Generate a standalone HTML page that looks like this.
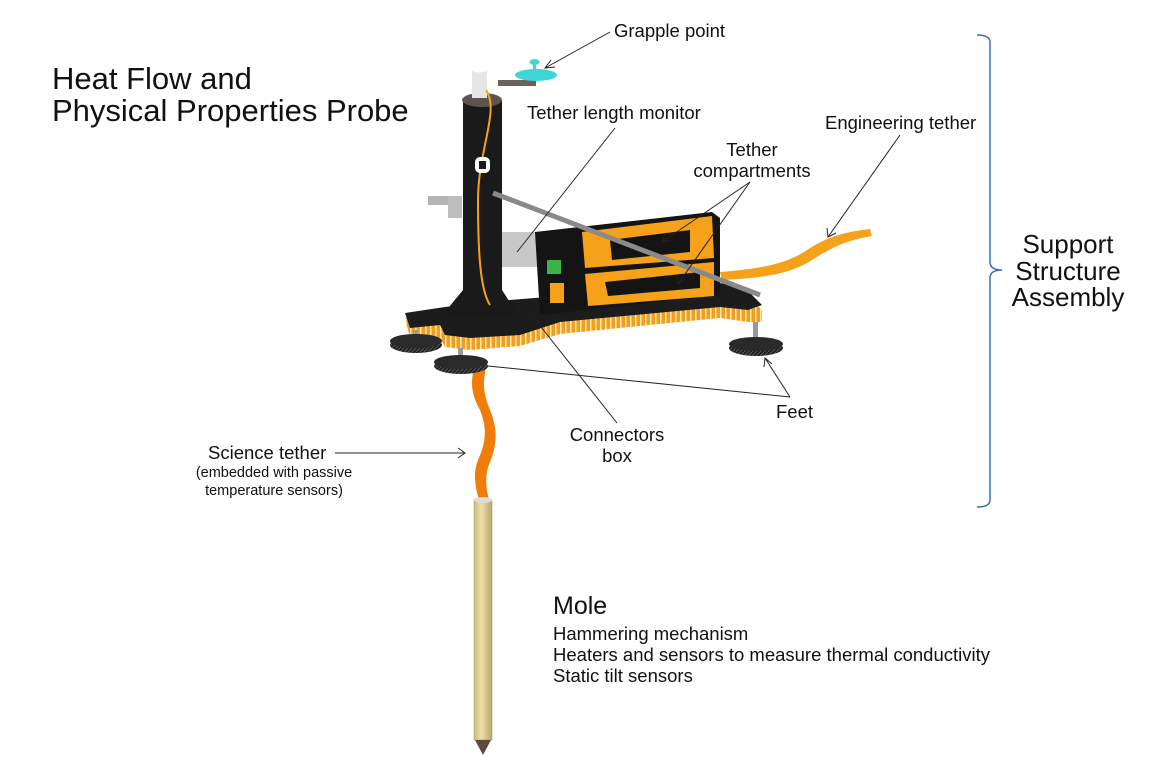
<!DOCTYPE html>
<html><head><meta charset="utf-8"><style>
html,body{margin:0;padding:0;background:#fff;}
svg{display:block;}
text{font-family:"Liberation Sans",Arial,sans-serif;fill:#111;}
</style></head><body>
<svg width="1176" height="767" viewBox="0 0 1176 767" xmlns="http://www.w3.org/2000/svg">
<defs>
<linearGradient id="mole" x1="0" x2="1"><stop offset="0" stop-color="#c9b97a"/><stop offset="0.4" stop-color="#eee0a8"/><stop offset="1" stop-color="#b9a66a"/></linearGradient>
<pattern id="rim" width="5" height="20" patternUnits="userSpaceOnUse"><rect width="5" height="20" fill="#f0a020"/><rect width="1.5" height="20" fill="#fde6b0"/></pattern>
<pattern id="tread" width="4" height="4" patternUnits="userSpaceOnUse"><rect width="4" height="4" fill="#222"/><path d="M0 4L4 0" stroke="#555" stroke-width="1"/></pattern>
</defs>

<!-- Titles -->
<text x="52" y="89" font-size="31">Heat Flow and</text>
<text x="52" y="121" font-size="31">Physical Properties Probe</text>

<!-- Labels -->
<text x="614" y="37" font-size="18.5">Grapple point</text>
<text x="527" y="119" font-size="18.5">Tether length monitor</text>
<text x="825" y="129" font-size="18.5">Engineering tether</text>
<text x="752" y="156" font-size="18.5" text-anchor="middle">Tether</text>
<text x="752" y="177" font-size="18.5" text-anchor="middle">compartments</text>
<text x="776" y="418" font-size="18.5">Feet</text>
<text x="617" y="441" font-size="18.5" text-anchor="middle">Connectors</text>
<text x="617" y="462" font-size="18.5" text-anchor="middle">box</text>
<text x="208" y="459" font-size="18.5">Science tether</text>
<text x="274" y="477" font-size="14.5" text-anchor="middle">(embedded with passive</text>
<text x="274" y="495" font-size="14.5" text-anchor="middle">temperature sensors)</text>
<text x="1068" y="253" font-size="26" text-anchor="middle">Support</text>
<text x="1068" y="280" font-size="26" text-anchor="middle">Structure</text>
<text x="1068" y="306" font-size="26" text-anchor="middle">Assembly</text>
<text x="553" y="614" font-size="25">Mole</text>
<text x="553" y="640" font-size="18.5">Hammering mechanism</text>
<text x="553" y="661" font-size="18.5">Heaters and sensors to measure thermal conductivity</text>
<text x="553" y="682" font-size="18.5">Static tilt sensors</text>

<!-- Bracket -->
<path d="M977 35 Q990 35 990 42 L990 262 Q990 270 1002 270 Q990 270 990 278 L990 500 Q990 507 977 507" fill="none" stroke="#3a6fb8" stroke-width="1.5"/>

<!-- Engineering tether -->
<path d="M720 272 C770 268 790 262 810 248 C830 236 845 232 870 229 L872 236 C848 240 835 246 815 258 C795 272 770 278 722 280Z" fill="#f5a21a"/>

<!-- Science tether -->
<path d="M474 368 C470 385 472 395 480 410 C488 430 485 445 478 460 C472 475 476 490 480 503 L490 503 C486 490 484 476 490 462 C497 445 498 430 490 410 C484 395 482 385 486 368Z" fill="#f07d0a"/>

<!-- Mole -->
<rect x="474" y="500" width="18" height="240" fill="url(#mole)" stroke="#a89560" stroke-width="0.5"/>
<path d="M475 740 L491 740 L483 755Z" fill="#5a4a40"/>
<ellipse cx="483" cy="500" rx="9" ry="3" fill="#ddd"/>

<!-- Base rim -->
<polygon points="405,318 445,312 510,305 720,288 745,293 762,310 762,322 748,322 720,318 560,334 520,346 470,350 445,347 440,338 410,338" fill="url(#rim)"/>
<polygon points="405,313 445,307 510,300 720,283 745,288 762,305 748,310 720,307 560,322 520,335 470,338 445,335 440,325 410,328" fill="#1c1c1c"/>

<!-- Feet -->
<rect x="413" y="330" width="5" height="8" fill="#999"/>
<ellipse cx="416" cy="345" rx="26" ry="8" fill="url(#tread)"/>
<ellipse cx="416" cy="341" rx="26" ry="7" fill="#2a2a2a"/>
<rect x="458" y="348" width="5" height="10" fill="#999"/>
<ellipse cx="461" cy="366" rx="27" ry="8" fill="url(#tread)"/>
<ellipse cx="461" cy="362" rx="27" ry="7" fill="#2a2a2a"/>
<rect x="753" y="322" width="5" height="18" fill="#999"/>
<ellipse cx="756" cy="348" rx="27" ry="8" fill="url(#tread)"/>
<ellipse cx="756" cy="344" rx="27" ry="7" fill="#2a2a2a"/>

<!-- Tether box -->
<rect x="502" y="232" width="40" height="35" fill="#c8c8c8"/>
<polygon points="535,232 712,212 720,218 720,295 540,315" fill="#141414"/>
<polygon points="582,232 712,216 714,258 585,268" fill="#f5a21a"/>
<polygon points="585,274 714,262 714,296 588,306" fill="#f5a21a"/>
<polygon points="610,240 690,230 690,252 612,260" fill="#141414"/>
<polygon points="605,282 700,272 700,288 608,296" fill="#141414"/>
<rect x="547" y="260" width="14" height="14" fill="#3bb24a"/>
<rect x="550" y="283" width="14" height="20" fill="#f5a21a"/>

<!-- Column -->
<rect x="463" y="100" width="39" height="215" fill="#1a1a1a"/>
<polygon points="463,290 440,318 520,318 502,290" fill="#1a1a1a"/>
<ellipse cx="482" cy="100" rx="20" ry="7" fill="#5e544e"/>
<rect x="472" y="70" width="15" height="28" fill="#e6e6e6"/>
<ellipse cx="479.5" cy="70" rx="7.5" ry="2.5" fill="#fff"/>
<rect x="498" y="80" width="38" height="6" fill="#6a625d"/>
<path d="M486 90 C500 110 478 150 478 200 C478 250 480 290 490 305" fill="none" stroke="#f5a21a" stroke-width="2"/>
<rect x="475" y="157" width="15" height="16" rx="5" fill="#fff"/>
<rect x="479" y="161" width="7" height="8" fill="#1a1a1a"/>
<rect x="428" y="196" width="30" height="9" fill="#b5b5b5"/>
<rect x="448" y="196" width="14" height="22" fill="#bdbdbd"/>
<!-- Rod -->
<line x1="493" y1="193" x2="760" y2="295" stroke="#8a8a8a" stroke-width="5"/>

<!-- Grapple -->
<ellipse cx="536" cy="75" rx="21" ry="6" fill="#3fd6d6"/>
<rect x="533" y="62" width="3" height="13" fill="#3fd6d6"/>
<ellipse cx="534.5" cy="62" rx="5" ry="3" fill="#3fd6d6"/>

<!-- Leader lines -->
<g stroke="#222" stroke-width="1" fill="none">
<line x1="610" y1="32" x2="545" y2="68"/><path d="M551 60 L545 68 L555 67"/>
<line x1="615" y1="128" x2="517" y2="252"/>
<line x1="750" y1="182" x2="662" y2="242"/><path d="M665 234 L662 242 L671 240"/>
<line x1="750" y1="182" x2="678" y2="284"/><path d="M677 276 L678 284 L685 279"/>
<line x1="900" y1="135" x2="828" y2="237"/><path d="M827 228 L828 237 L836 233"/>
<line x1="488" y1="366" x2="790" y2="397"/>
<line x1="765" y1="358" x2="790" y2="397"/><path d="M764 367 L765 358 L772 364"/>
<line x1="530" y1="313" x2="617" y2="423"/>
<line x1="335" y1="453" x2="465" y2="453"/><path d="M458 448 L465 453 L458 458"/>
</g>
</svg>
</body></html>
